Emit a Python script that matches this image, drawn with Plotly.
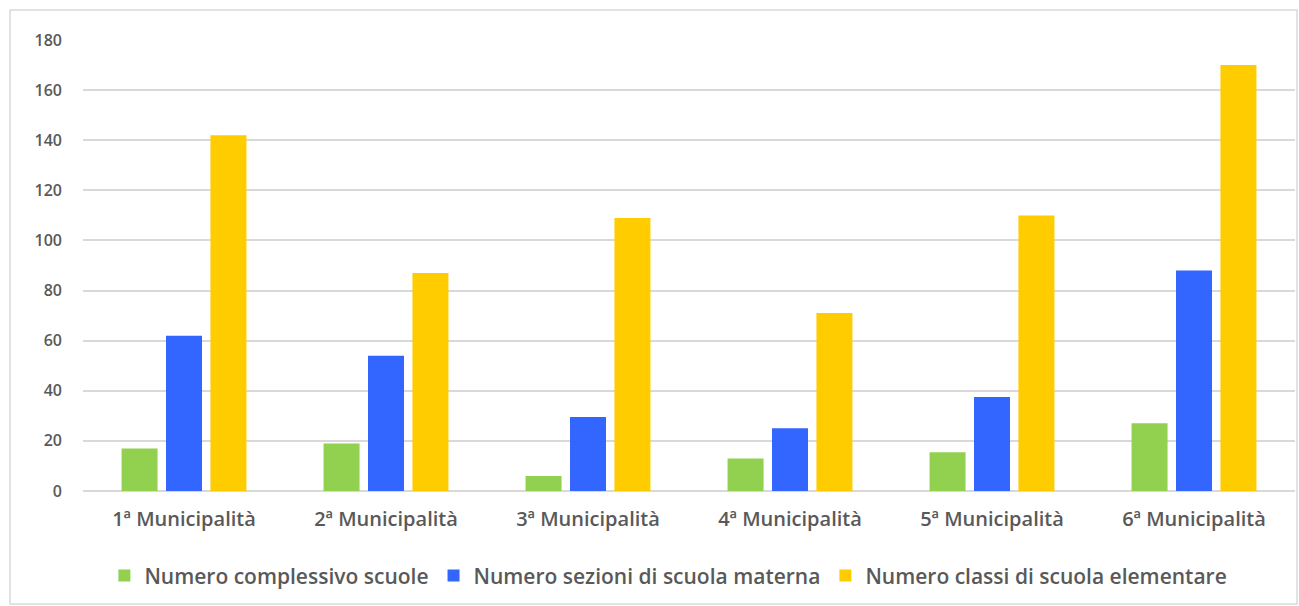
import plotly.graph_objects as go

categories = ["1ª Municipalità", "2ª Municipalità", "3ª Municipalità",
              "4ª Municipalità", "5ª Municipalità", "6ª Municipalità"]
scuole = [17, 19, 6, 13, 15.5, 27]
sezioni_materna = [62, 54, 29.5, 25, 37.5, 88]
classi_elementare = [142, 87, 109, 71, 110, 170]

series_names = ["Numero complessivo scuole", "Numero sezioni di scuola materna",
                "Numero classi di scuola elementare"]
colors = ["#92d050", "#3366ff", "#ffcc00"]

fig = go.Figure()
for name, vals, col in zip(series_names, [scuole, sezioni_materna, classi_elementare], colors):
    fig.add_trace(go.Bar(x=categories, y=vals, name=name, marker=dict(color=col, line=dict(width=0))))

font_family = "'Open Sans', Lato, sans-serif"
fig.update_layout(
    width=1299, height=606,
    margin=dict(l=83, r=4, t=40, b=115),
    paper_bgcolor="white", plot_bgcolor="white",
    barmode="group", bargap=0.34, bargroupgap=0.19,
    font=dict(family=font_family, color="#595959"),
    showlegend=True,
    legend=dict(orientation="h", x=0.483, xanchor="center", y=-0.188, yanchor="middle",
                font=dict(size=21, color="#595959", weight=600), itemwidth=30, traceorder="normal"),
    xaxis=dict(showgrid=False, showline=False, ticks="",
               tickfont=dict(size=20, color="#595959", weight=600),
               ticklabelstandoff=14),
    yaxis=dict(range=[0, 180], dtick=20, showgrid=True, gridcolor="#d9d9d9", gridwidth=2,
               zeroline=True, zerolinecolor="#d9d9d9", zerolinewidth=2, showline=False,
               ticks="", tickfont=dict(size=16, color="#595959", weight=600), ticklabelstandoff=20),
    shapes=[dict(type="rect", xref="paper", yref="paper", x0=-0.0602, x1=1.0017,
                 y0=-0.2506, y1=1.0665, line=dict(color="#d9d9d9", width=1.5), layer="below")],
)

fig.write_html("out.html")
